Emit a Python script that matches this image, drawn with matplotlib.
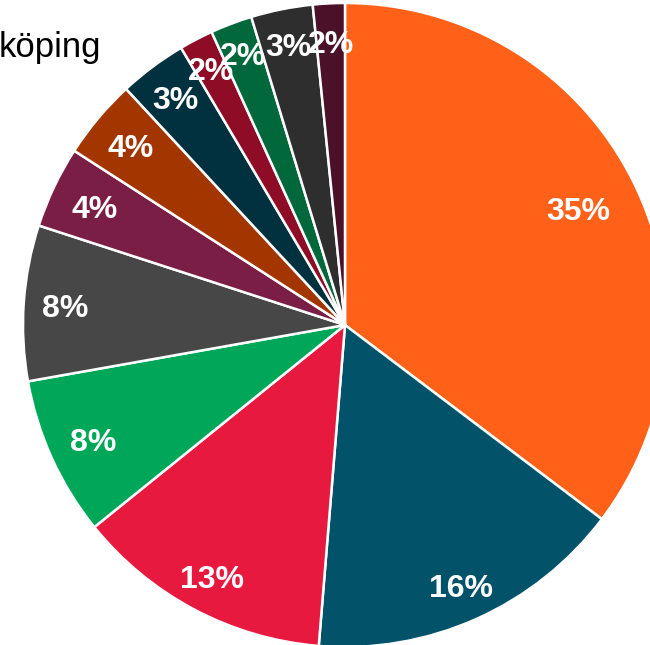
import matplotlib
matplotlib.use('Agg')
import matplotlib.pyplot as plt
import numpy as np

# slices clockwise from 12 o'clock
shares = [35.3, 16.0, 12.9, 8.0, 7.8, 4.1, 4.0, 3.4, 1.7, 2.1, 3.1, 1.6]
colors = ['#FF6119', '#02536A', '#E8193F', '#00A758', '#474747', '#7B1E45',
          '#A33600', '#01313F', '#8F0C26', '#00683A', '#2E2E2E', '#4A1129']
legend_text = 'köping'

# label distance per slice (fraction of radius)
label_r = [0.81, 0.885, 0.885, 0.86, 0.87, 0.86, 0.87, 0.88, 0.90, 0.90, 0.89, 0.88]

plt.rcParams['font.family'] = ['Liberation Sans', 'DejaVu Sans']

fig = plt.figure(figsize=(6.5, 6.45), dpi=100)
W, H = 650, 645
cx, cy, R = 345, 325, 322
ax = fig.add_axes([(cx - R) / W, (H - cy - R) / H, 2 * R / W, 2 * R / H])

wedges, _ = ax.pie(shares, colors=colors, startangle=90, counterclock=False,
                   radius=1, wedgeprops=dict(edgecolor='white', linewidth=1.8))

total = sum(shares)
for w, s, r in zip(wedges, shares, label_r):
    mid = np.deg2rad((w.theta1 + w.theta2) / 2)
    ax.text(r * np.cos(mid), r * np.sin(mid), '{:.0f}%'.format(100 * s / total),
            ha='center', va='center_baseline', color='white', fontsize=23,
            fontweight='bold')

ax.set_xlim(-1, 1)
ax.set_ylim(-1, 1)
ax.set_aspect('equal')
ax.axis('off')

fig.text(101 / W, (H - 57) / H, legend_text, ha='right', va='baseline',
         fontsize=25, color='black')

fig.savefig('out.png', dpi=100)
